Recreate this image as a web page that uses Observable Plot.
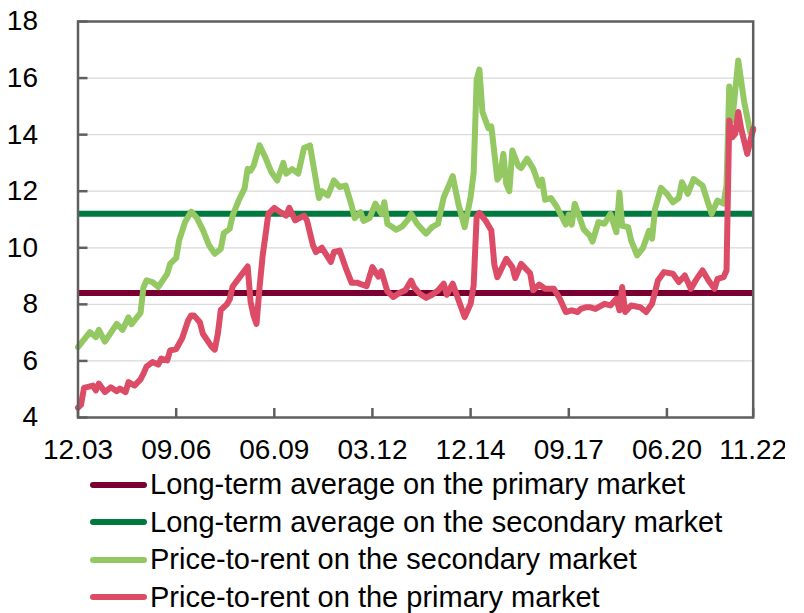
<!DOCTYPE html>
<html><head><meta charset="utf-8">
<script src="https://cdn.jsdelivr.net/npm/d3@7"></script>
<script src="https://cdn.jsdelivr.net/npm/@observablehq/plot@0.6"></script>
<style>
body{margin:0;background:#fff;font-family:"Liberation Sans",Arial,sans-serif;}
#wrap{width:785px;overflow:hidden;}
.legend{margin-left:90px;}
.row{display:flex;align-items:center;height:37.5px;font-size:29px;color:#000;white-space:nowrap;}
.sw{width:57px;height:6px;border-radius:3px;margin-right:3px;flex:none;}
</style></head><body><div id="wrap"></div>
<script>
// x-axis tick labels (month.year)
const tickLabels = ["12.03","09.06","06.09","03.12","12.14","09.17","06.20","11.22"];
const yTicks = [4,6,8,10,12,14,16,18];

// Months counted from December 2003
const secMonths = [0,4,6,7,9,13,15,17,18,21,22,23,25,27,30,31,33,34,36,38,40,42,44,46,48,49,51,52,54,56,57,58,59,61,63,65,67,69,70,72,74,76,78,81,82,84,86,88,90,92,93,95,96,98,100,102,103,104,107,109,111,112,114,117,119,121,123,124,126,128,130,132,133,134,135,136,138,139,141,142,143,144,145,146,148,149,151,153,155,156,157,159,161,164,165,166,167,170,172,173,175,177,179,181,182,183,185,186,188,190,192,193,194,196,198,200,202,203,205,207,210,212,213,215,217,218,219,220,222,224,226,227];
const secValues = [6.49,7.02,6.84,7.1,6.68,7.31,7.1,7.54,7.3,7.7,8.6,8.85,8.79,8.61,9.08,9.43,9.64,10.26,10.91,11.28,11.05,10.63,10.1,9.79,9.96,10.52,10.67,11.15,11.67,12.1,12.79,12.73,12.9,13.62,13.2,12.68,12.38,13.0,12.62,12.78,12.62,13.53,13.62,11.76,12.0,11.85,12.38,12.15,12.2,11.5,11.05,11.26,10.95,11.05,11.56,11.2,11.61,10.85,10.64,10.76,11.0,11.2,10.85,10.5,10.73,10.85,11.79,12.03,12.53,11.5,10.73,11.79,12.64,15.95,16.3,14.8,14.23,14.29,12.41,12.56,13.32,12.26,12.0,13.44,12.9,12.82,13.15,12.8,12.2,12.41,11.7,11.76,11.45,10.82,11.17,10.82,11.56,10.65,10.44,10.22,10.91,10.85,11.2,10.55,11.95,10.78,10.73,10.26,9.73,10.0,10.6,10.32,11.38,12.12,11.91,11.61,11.76,12.32,11.91,12.43,12.2,11.53,11.2,11.67,11.56,12.2,15.7,14.5,16.62,15.15,14.1,14.15];

const priMonths = [0,1,2,5,6,7,9,11,13,14,16,17,19,21,22,23,25,27,28,30,31,33,35,37,38,39,41,42,45,46,47,48,50,51,52,55,57,58,59,60,61,62,63,64,66,68,70,71,73,76,77,79,80,82,85,86,88,90,92,94,97,99,101,102,104,106,108,110,112,113,115,117,119,121,123,124,126,128,130,132,133,134,135,137,139,140,141,144,146,147,149,152,153,155,157,160,162,164,166,168,169,171,172,174,177,179,181,182,183,184,186,189,191,193,195,197,200,202,204,206,208,210,212,214,215,217,218,219,220,221,222,223,225,227];
const priValues = [4.35,4.45,5.05,5.13,4.96,5.2,4.9,5.07,4.93,5.02,4.9,5.25,5.13,5.35,5.55,5.8,5.96,5.87,6.08,6.02,6.37,6.42,6.8,7.43,7.61,7.61,7.37,6.96,6.49,6.4,6.96,7.8,8.0,8.17,8.63,9.05,9.34,8.1,7.6,7.31,8.6,9.7,10.4,11.2,11.41,11.26,11.14,11.41,10.97,11.14,10.97,10.1,9.85,10.0,9.5,9.85,9.9,9.3,8.76,8.76,8.64,9.32,8.98,9.17,8.46,8.26,8.4,8.5,8.84,8.61,8.37,8.23,8.34,8.49,8.73,8.34,8.73,8.14,7.55,8.02,8.67,11.1,11.23,10.97,10.61,9.4,8.96,9.61,9.32,8.93,9.43,9.1,8.5,8.7,8.55,8.55,8.2,7.73,7.79,7.73,7.84,7.9,7.9,7.84,8.02,7.96,8.2,7.79,8.61,7.73,7.96,7.9,7.73,8.02,8.84,9.14,9.08,8.79,9.02,8.55,8.9,9.2,8.84,8.55,8.9,8.96,9.2,14.5,13.91,14.03,14.8,14.21,13.32,14.21];

const avgPrimary = 8.4;
const avgSecondary = 11.2;

const seriesNames = [
  "Long-term average on the primary market",
  "Long-term average on the secondary market",
  "Price-to-rent on the secondary market",
  "Price-to-rent on the primary market"
];
const seriesColors = ["#790031", "#00793f", "#93c862", "#dc4c66"];

const start = new Date(Date.UTC(2003, 11, 1));
const toDate = m => d3.utcMonth.offset(start, m);
const tickDates = tickLabels.map(s => { const [mm, yy] = s.split("."); return new Date(Date.UTC(2000 + +yy, +mm - 1, 1)); });
const secondary = secMonths.map((m, i) => ({date: toDate(m), value: secValues[i]}));
const primary = priMonths.map((m, i) => ({date: toDate(m), value: priValues[i]}));

const plot = Plot.plot({
  width: 785, height: 466,
  marginLeft: 77.5, marginRight: 32.3, marginTop: 21, marginBottom: 49,
  style: {fontFamily: "'Liberation Sans', Arial, sans-serif", fontSize: "28px", color: "#000", background: "#fff", overflow: "hidden"},
  x: {type: "utc", domain: [tickDates[0], tickDates[tickDates.length - 1]], label: null},
  y: {domain: [4, 18], label: null},
  marks: [
    Plot.gridY(yTicks, {stroke: "#d9d9d9", strokeOpacity: 1, strokeWidth: 1.2}),
    Plot.ruleY([avgPrimary], {stroke: seriesColors[0], strokeWidth: 6}),
    Plot.ruleY([avgSecondary], {stroke: seriesColors[1], strokeWidth: 6}),
    Plot.line(secondary, {x: "date", y: "value", stroke: seriesColors[2], strokeWidth: 6, strokeLinejoin: "round", strokeLinecap: "round"}),
    Plot.line(primary, {x: "date", y: "value", stroke: seriesColors[3], strokeWidth: 6, strokeLinejoin: "round", strokeLinecap: "round"}),
    Plot.frame({stroke: "#5f5f5f", strokeWidth: 2.5}),
    Plot.axisY(yTicks, {tickSize: 0, tickPadding: 40, fontSize: 28, fill: "#000", label: null}),
    Plot.axisY(yTicks, {tickSize: -10, tickFormat: () => "", stroke: "#5f5f5f", strokeWidth: 2.5, label: null}),
    Plot.axisX(tickDates, {tickSize: 0, tickPadding: 22, fontSize: 28, fill: "#000", tickFormat: d3.utcFormat("%m.%y"), label: null}),
    Plot.axisX(tickDates, {tickSize: -9, tickFormat: () => "", stroke: "#5f5f5f", strokeWidth: 2.5, label: null})
  ]
});
const wrap = document.getElementById("wrap");
wrap.appendChild(plot);

const legend = document.createElement("div");
legend.className = "legend";
seriesNames.forEach((name, i) => {
  const row = document.createElement("div");
  row.className = "row";
  const sw = document.createElement("span");
  sw.className = "sw";
  sw.style.background = seriesColors[i];
  const label = document.createElement("span");
  label.textContent = name;
  row.appendChild(sw);
  row.appendChild(label);
  legend.appendChild(row);
});
wrap.appendChild(legend);
</script></body></html>
